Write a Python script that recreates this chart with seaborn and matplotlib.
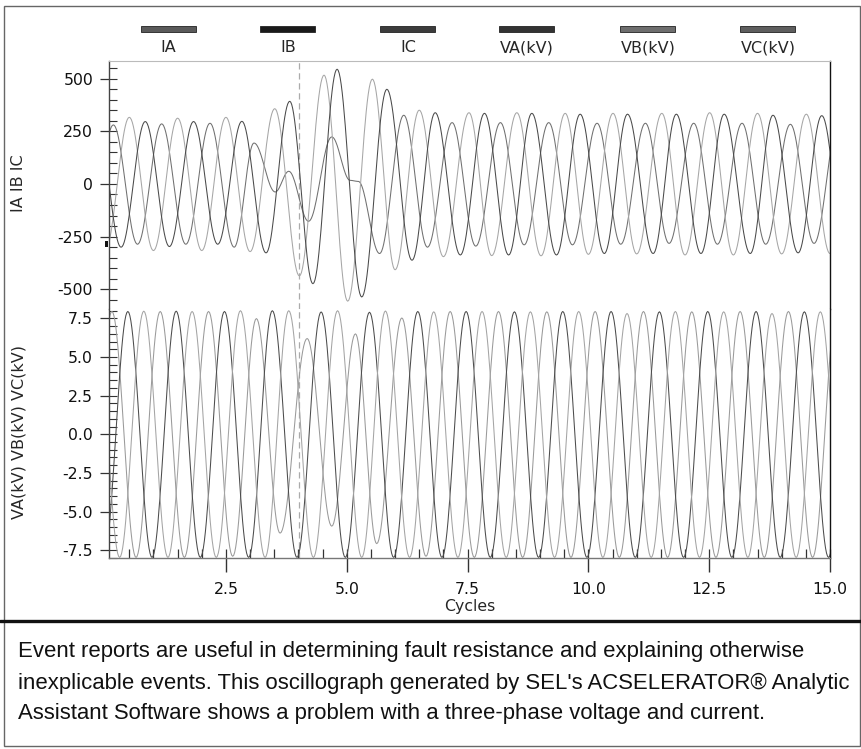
import numpy as np
import pandas as pd
import matplotlib
matplotlib.use("Agg")
import matplotlib.pyplot as plt
import seaborn as sns
from matplotlib.ticker import MultipleLocator, FormatStrFormatter
from matplotlib.patches import Rectangle
from matplotlib.lines import Line2D

# ---------------- data (extrema: time in cycles, value) ----------------
IA_t = [-0.33, 0.17, 0.67, 1.17, 1.67, 2.17, 2.67, 3.08, 3.52, 3.80, 4.21, 4.69, 5.07, 5.24, 5.68,
        6.18, 6.67, 7.18, 7.67, 8.18, 8.67, 9.18, 9.67, 10.18, 10.67, 11.18, 11.67, 12.18, 12.67,
        13.18, 13.67, 14.18, 14.67, 15.17]
IA_v = [-285, 280, -286, 285, -286, 288, -300, 194, -38, 60, -177, 223, 17, 12, -330,
        326, -300, 291, -295, 291, -289, 291, -289, 288, -286, 288, -282, 288, -286,
        288, -286, 283, -282, 285]

IB_t = [-0.5, 0.0, 0.5, 1.0, 1.5, 2.0, 2.5, 3.0, 3.51, 4.02, 4.53, 5.02, 5.53, 6.0, 6.5, 7.0,
        7.53, 8.0, 8.52, 9.02, 9.52, 10.0, 10.51, 11.0, 11.52, 12.0, 12.51, 13.0, 13.5, 14.0,
        14.51, 15.0, 15.5]
IB_v = [316, -316, 316, -316, 312, -316, 316, -321, 357, -436, 516, -556, 497, -407, 350, -345,
        338, -340, 338, -341, 335, -334, 335, -332, 335, -337, 338, -337, 335, -332,
        331, -330, 330]

IC_t = [-0.17, 0.33, 0.83, 1.33, 1.83, 2.33, 2.83, 3.33, 3.82, 4.30, 4.80, 5.31, 5.83, 6.35,
        6.83, 7.35, 7.85, 8.35, 8.83, 9.34, 9.83, 10.33, 10.81, 11.34, 11.82, 12.33, 12.81,
        13.35, 13.82, 14.34, 14.83, 15.33]
IC_v = [296, -300, 296, -297, 296, -286, 297, -327, 392, -473, 544, -536, 449, -362,
        338, -337, 335, -337, 335, -337, 331, -330, 331, -330, 331, -330, 331,
        -330, 326, -327, 324, -325]

VA_t = [-0.36, 0.14, 0.64, 1.14, 1.64, 2.14, 2.64, 3.13, 3.62, 4.18, 4.69, 5.18, 5.62, 6.14,
        6.64, 7.14, 7.64, 8.14, 8.64, 9.14, 9.64, 10.14, 10.64, 11.14, 11.64, 12.14, 12.64,
        13.14, 13.64, 14.14, 14.64, 15.14]
VA_v = [-7.95, 7.95, -7.97, 7.95, -7.97, 7.95, -7.90, 7.49, -6.40, 6.20, -5.95, 6.50, -7.08, 7.53,
        -7.90, 7.95, -7.97, 7.95, -7.97, 7.93, -7.97, 7.95, -7.97, 7.95, -7.97, 7.93, -7.97,
        7.95, -7.97, 7.95, -7.97, 7.95]

VB_t = [-0.03, 0.47, 0.97, 1.47, 1.97, 2.47, 2.97, 3.46, 3.97, 4.47, 4.97, 5.47, 5.97, 6.47,
        6.97, 7.47, 7.97, 8.47, 8.97, 9.47, 9.97, 10.47, 10.97, 11.47, 11.97, 12.47, 12.97,
        13.47, 13.97, 14.47, 14.97, 15.47]
VB_v = [-7.97, 7.95, -7.97, 7.97, -7.97, 7.95, -7.97, 8.00, -7.97, 7.92, -7.97, 7.90, -7.97, 7.95,
        -7.97, 7.95, -7.97, 7.93, -7.97, 7.95, -7.97, 7.95, -7.97, 7.93, -7.97, 7.95, -7.97,
        7.95, -7.97, 7.93, -7.97, 7.95]

VC_t = [-0.2, 0.3, 0.8, 1.3, 1.8, 2.3, 2.8, 3.31, 3.8, 4.31, 4.81, 5.31, 5.8, 6.3,
        6.8, 7.3, 7.8, 8.3, 8.8, 9.3, 9.8, 10.3, 10.8, 11.3, 11.8, 12.3, 12.8,
        13.3, 13.8, 14.3, 14.8, 15.3]
VC_v = [7.95, -7.97, 7.97, -7.97, 7.95, -7.97, 8.00, -7.97, 8.00, -7.97, 8.00, -7.97, 7.98, -7.97,
        7.93, -7.97, 7.95, -7.97, 7.93, -7.97, 7.95, -7.97, 7.82, -7.97, 7.95, -7.97, 7.93,
        -7.97, 7.82, -7.97, 7.93, -7.97]

FAULT_T = 4.02
SIGNALS = ["IA", "IB", "IC", "VA(kV)", "VB(kV)", "VC(kV)"]
CAPTION = ["Event reports are useful in determining fault resistance and explaining otherwise",
           "inexplicable events. This oscillograph generated by SEL's ACSELERATOR\u00ae Analytic",
           "Assistant Software shows a problem with a three-phase voltage and current."]

# ---------------- build waveform table (half-cosine between consecutive extrema) ----------------
def wave(ts, vs, n=24):
    xs, ys = [], []
    s = np.linspace(0, 1, n, endpoint=False)
    for i in range(len(ts) - 1):
        xs.append(ts[i] + (ts[i + 1] - ts[i]) * s)
        ys.append((vs[i] + vs[i + 1]) / 2 + (vs[i] - vs[i + 1]) / 2 * np.cos(np.pi * s))
    xs.append([ts[-1]]); ys.append([vs[-1]])
    return np.concatenate(xs), np.concatenate(ys)

series = {"IA": (IA_t, IA_v), "IB": (IB_t, IB_v), "IC": (IC_t, IC_v),
          "VA(kV)": (VA_t, VA_v), "VB(kV)": (VB_t, VB_v), "VC(kV)": (VC_t, VC_v)}
frames = []
for name, (tt, vv) in series.items():
    x, y = wave(tt, vv)
    frames.append(pd.DataFrame({"t": x, "value": y, "signal": name}))
df = pd.concat(frames, ignore_index=True)

line_colors = {"IA": "#707070", "IB": "#a6a6a6", "IC": "#4a4a4a",
               "VA(kV)": "#9a9a9a", "VB(kV)": "#4c4c4c", "VC(kV)": "#a4a4a4"}
bar_colors = {"IA": "#5a5a5a", "IB": "#1a1a1a", "IC": "#3c3c3c",
              "VA(kV)": "#333333", "VB(kV)": "#6e6e6e", "VC(kV)": "#5e5e5e"}

# ---------------- figure ----------------
sns.set_style("white")
plt.rcParams["font.family"] = ["DejaVu Sans"]
W, H = 862, 749
fig = plt.figure(figsize=(W / 100, H / 100), dpi=100)

def fx(px):
    return px / W

def fy(py):
    return 1 - py / H

L, R, TOP, MID, BOT = 109, 830, 61, 309, 558
ax1 = fig.add_axes([fx(L), fy(MID), (R - L) / W, (MID - TOP) / H])
ax2 = fig.add_axes([fx(L), fy(BOT), (R - L) / W, (BOT - MID) / H], sharex=ax1)
for ax in (ax1, ax2):
    ax.set_facecolor("white")

cur = df[df["signal"].isin(SIGNALS[:3])]
vol = df[df["signal"].isin(SIGNALS[3:])]
sns.lineplot(data=cur, x="t", y="value", hue="signal", palette=line_colors, estimator=None,
             sort=False, legend=False, lw=0.75, ax=ax1)
sns.lineplot(data=vol, x="t", y="value", hue="signal", palette=line_colors, estimator=None,
             sort=False, legend=False, lw=0.75, ax=ax2)

for ax in (ax1, ax2):
    ax.axvline(FAULT_T, color="#ababab", lw=0.9, ls=(0, (5, 3)), zorder=0)
    ax.set_xlabel("")
    ax.set_ylabel("")

ax1.set_xlim(0.08, 15.0)
ax1.set_ylim(-593, 583)
ax2.set_ylim(-8.01, 8.11)

# y ticks
ax1.yaxis.set_major_locator(MultipleLocator(250))
ax1.yaxis.set_minor_locator(MultipleLocator(50))
ax1.yaxis.set_major_formatter(FormatStrFormatter("%d"))
ax2.yaxis.set_major_locator(MultipleLocator(2.5))
ax2.yaxis.set_minor_locator(MultipleLocator(0.5))
ax2.yaxis.set_major_formatter(FormatStrFormatter("%.1f"))
for ax in (ax1, ax2):
    ax.yaxis.remove_overlapping_locs = False
    ax.tick_params(axis="y", which="major", direction="out", length=6.5, width=0.9,
                   color="#333333", pad=5, labelsize=11.3, labelcolor="#111111", left=True)
    ax.tick_params(axis="y", which="minor", direction="in", length=5.5, width=0.8,
                   color="#333333", left=True)

# x ticks
ax2.xaxis.set_major_locator(MultipleLocator(2.5))
ax2.xaxis.set_minor_locator(MultipleLocator(0.5))
ax2.xaxis.set_major_formatter(FormatStrFormatter("%.1f"))
ax2.xaxis.remove_overlapping_locs = False
ax2.tick_params(axis="x", which="major", direction="out", length=10, width=1.0,
                color="#333333", pad=7, labelsize=11.3, labelcolor="#111111", bottom=True)
ax2.tick_params(axis="x", which="minor", direction="in", length=6.5, width=0.9,
                color="#333333", bottom=True)
ax1.tick_params(axis="x", which="both", bottom=False, labelbottom=False)

# spines
ax1.spines["bottom"].set_visible(False)
ax2.spines["top"].set_visible(False)
ax1.spines["top"].set_color("#bbbbbb")
for ax in (ax1, ax2):
    ax.spines["left"].set_color("#444444")
    ax.spines["right"].set_color("#111111")
    ax.spines["left"].set_linewidth(1.0)
    ax.spines["right"].set_linewidth(1.0)
ax2.spines["bottom"].set_color("#777777")
ax2.spines["bottom"].set_linewidth(1.0)

# axis titles
fig.text(fx(19), fy(183), "IA IB IC", rotation=90, ha="center", va="center", fontsize=11.5)
fig.text(fx(19), fy(432), "VA(kV) VB(kV) VC(kV)", rotation=90, ha="center", va="center",
         fontsize=11.5)
fig.text(fx((L + R) / 2), fy(607), "Cycles", ha="center", va="center", fontsize=11.3)

# legend along the top
legend_x = [168, 288, 408, 527, 648, 768]
for name, cx in zip(SIGNALS, legend_x):
    fig.patches.append(Rectangle((fx(cx - 27.5), fy(32)), 55 / W, 6 / H, transform=fig.transFigure,
                                 facecolor=bar_colors[name], edgecolor="#222222", lw=0.6))
    fig.text(fx(cx), fy(48), name, ha="center", va="center", fontsize=11.5)

# small cursor marker at the left edge of the current axis
fig.patches.append(Rectangle((fx(105), fy(247)), 3 / W, 6 / H, transform=fig.transFigure,
                             facecolor="#111111", edgecolor="none"))

# frame, separator and caption
fig.patches.append(Rectangle((fx(4), fy(746)), (860 - 4) / W, (746 - 6) / H, transform=fig.transFigure,
                             facecolor="none", edgecolor="#666666", lw=1.0))
fig.lines.append(Line2D([0, 1], [fy(621), fy(621)], transform=fig.transFigure, color="#111111", lw=2.4))
for i, line in enumerate(CAPTION):
    fig.text(fx(18), fy(652 + 31 * i), line, ha="left", va="center", fontsize=15.9,
             family=["Liberation Sans", "DejaVu Sans"], color="#111111")

fig.savefig("out.png", dpi=100)
